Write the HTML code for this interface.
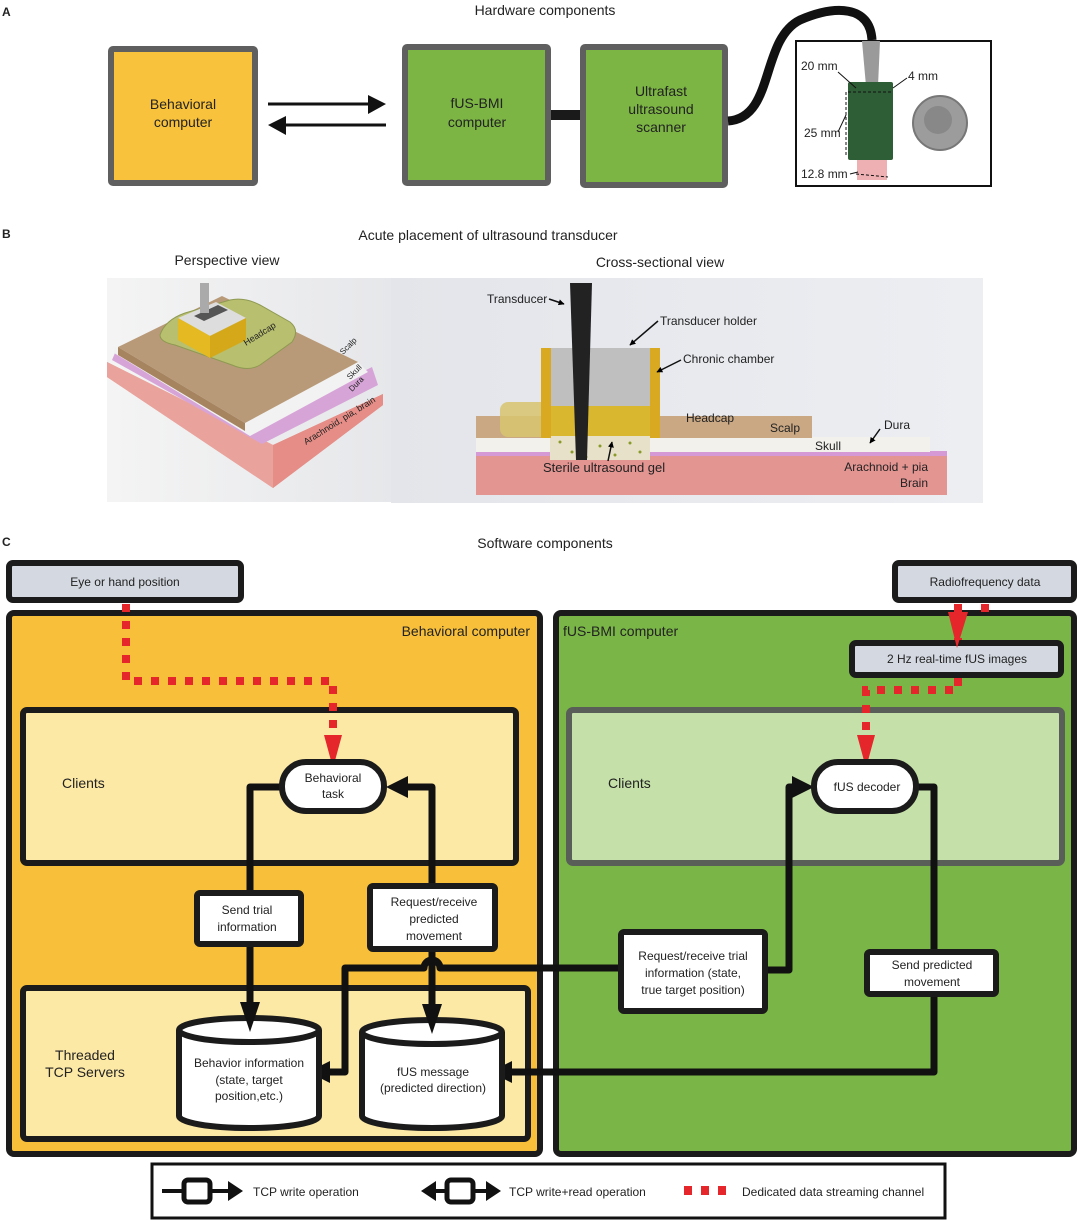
<!DOCTYPE html>
<html><head><meta charset="utf-8"><style>
html,body{margin:0;padding:0;background:#fff;}
svg{display:block;}
text{font-family:"Liberation Sans",sans-serif;fill:#222;}
</style></head><body>
<svg width="1080" height="1220" viewBox="0 0 1080 1220" xmlns="http://www.w3.org/2000/svg">
<defs>
<marker id="ah" viewBox="0 0 10 10" refX="9" refY="5" markerWidth="4" markerHeight="4" orient="auto"><path d="M0,0L10,5L0,10z" fill="#000"/></marker>
<linearGradient id="bgB" x1="0" y1="0" x2="1" y2="0"><stop offset="0" stop-color="#f4f4f4"/><stop offset="1" stop-color="#e6e7ea"/></linearGradient>
<linearGradient id="bgC" x1="0" y1="0" x2="1" y2="0"><stop offset="0" stop-color="#e3e5ea"/><stop offset="1" stop-color="#eceef2"/></linearGradient>
</defs>
<g font-size="13">
<text x="2" y="16" font-weight="bold" font-size="12">A</text>
<text x="2" y="238" font-weight="bold" font-size="12">B</text>
<text x="2" y="546" font-weight="bold" font-size="12">C</text>
<text x="545" y="15" text-anchor="middle" font-size="14">Hardware components</text>

<!-- Panel A -->
<rect x="111" y="49" width="144" height="134" fill="#f9c23c" stroke="#5f5f5f" stroke-width="6" rx="2"/>
<text x="183" y="109" text-anchor="middle" font-size="14">Behavioral</text>
<text x="183" y="127" text-anchor="middle" font-size="14">computer</text>
<line x1="268" y1="104" x2="372" y2="104" stroke="#111" stroke-width="3"/>
<path d="M368,95L386,104L368,114z" fill="#111"/>
<line x1="286" y1="125" x2="386" y2="125" stroke="#111" stroke-width="3"/>
<path d="M286,116L268,125L286,135z" fill="#111"/>
<rect x="405" y="47" width="143" height="136" fill="#7cb544" stroke="#5f5f5f" stroke-width="6" rx="2"/>
<text x="477" y="108" text-anchor="middle" font-size="14">fUS-BMI</text>
<text x="477" y="127" text-anchor="middle" font-size="14">computer</text>
<rect x="551" y="110" width="31" height="10" fill="#1a1a1a"/>
<rect x="583" y="47" width="142" height="138" fill="#7cb544" stroke="#5f5f5f" stroke-width="6" rx="2"/>
<text x="661" y="96" text-anchor="middle" font-size="14">Ultrafast</text>
<text x="661" y="114" text-anchor="middle" font-size="14">ultrasound</text>
<text x="661" y="132" text-anchor="middle" font-size="14">scanner</text>
<path d="M728,121 C775,118 760,40 800,20 C835,5 870,5 872,40" fill="none" stroke="#111" stroke-width="9"/>
<rect x="796" y="41" width="195" height="145" fill="#fff" stroke="#111" stroke-width="2"/>
<path d="M862,41L880,41L878,86L866,86z" fill="#9a9a9a"/>
<rect x="848" y="82" width="45" height="78" fill="#2e5e35" rx="2"/>
<rect x="857" y="160" width="30" height="20" fill="#eeb0b2"/>
<circle cx="940" cy="123" r="27" fill="#9c9c9c" stroke="#777" stroke-width="2"/>
<circle cx="938" cy="120" r="14" fill="#888"/>
<line x1="848" y1="92" x2="893" y2="92" stroke="#111" stroke-width="1" stroke-dasharray="3,2"/>
<line x1="846" y1="92" x2="846" y2="155" stroke="#111" stroke-width="1" stroke-dasharray="3,2"/>
<line x1="856" y1="174" x2="888" y2="177" stroke="#111" stroke-width="1" stroke-dasharray="3,2"/>
<line x1="838" y1="72" x2="856" y2="88" stroke="#111" stroke-width="1"/>
<line x1="907" y1="78" x2="893" y2="88" stroke="#111" stroke-width="1"/>
<line x1="838" y1="132" x2="846" y2="115" stroke="#111" stroke-width="1"/>
<line x1="850" y1="174" x2="858" y2="172" stroke="#111" stroke-width="1"/>
<text x="801" y="70" font-size="12">20 mm</text>
<text x="908" y="80" font-size="12">4 mm</text>
<text x="804" y="137" font-size="12">25 mm</text>
<text x="801" y="178" font-size="12">12.8 mm</text>

<!-- Panel B -->
<text x="488" y="240" text-anchor="middle" font-size="14">Acute placement of ultrasound transducer</text>
<text x="227" y="265" text-anchor="middle" font-size="14">Perspective view</text>
<text x="660" y="267" text-anchor="middle" font-size="14">Cross-sectional view</text>
<rect x="107" y="278" width="284" height="224" fill="url(#bgB)"/>
<path d="M107,362 L273,445 L383,394 L383,405 L273,488 L107,377z" fill="#e6918c"/>
<path d="M107,362 L273,445 L273,488 L107,377z" fill="#e9a39c"/>
<path d="M383,394 L273,445 L273,488 L383,405z" fill="#e58d86"/>
<path d="M115,353 L255,425 L372,367 L378,385 L262,444 L112,360z" fill="#d7a4d8"/>
<path d="M115,347 L245,418 L358,362 L368,372 L250,436 L114,353z" fill="#f2f2f2"/>
<path d="M118,347 L222,296 L358,362 L245,423z" fill="#b99a78"/>
<path d="M118,347 L245,423 L245,431 L118,355z" fill="#a5845f"/>
<path d="M160,335 Q165,320 185,313 L230,300 Q245,297 260,305 L290,322 Q300,330 292,342 L260,365 Q248,372 232,365 L175,345 Q160,342 160,335z" fill="#b8bf6e" stroke="#8e9952" stroke-width="1"/>
<path d="M178,318 L216,302 L246,318 L210,336z" fill="#ddd"/>
<path d="M178,318 L210,336 L210,358 L178,340z" fill="#e4b922"/>
<path d="M210,336 L246,318 L246,340 L210,358z" fill="#d4a819"/>
<path d="M194,316 L218,305 L228,310 L204,321z" fill="#555"/>
<rect x="200" y="283" width="9" height="30" fill="#aaa"/>
<text transform="translate(246,346) rotate(-32)" font-size="9" fill="#333">Headcap</text>
<text transform="translate(343,355) rotate(-45)" font-size="8" fill="#333">Scalp</text>
<text transform="translate(350,380) rotate(-45)" font-size="8" fill="#333">Skull</text>
<text transform="translate(352,392) rotate(-45)" font-size="8" fill="#333">Dura</text>
<text transform="translate(306,445) rotate(-32)" font-size="9" fill="#333">Arachnoid, pia, brain</text>
<rect x="391" y="278" width="592" height="225" fill="url(#bgC)"/>
<rect x="476" y="455" width="471" height="40" fill="#e39592"/>
<rect x="476" y="451" width="471" height="5" fill="#d59ad6"/>
<rect x="476" y="437" width="454" height="15" fill="#f3f1ec"/>
<rect x="476" y="416" width="336" height="22" fill="#c9a883"/>
<rect x="500" y="402" width="150" height="35" fill="#d8c46e" rx="8" opacity="0.85"/>
<rect x="550" y="436" width="100" height="24" fill="#e7e1c9"/>
<g fill="#8a9a2a"><circle cx="560" cy="442" r="1.5"/><circle cx="572" cy="452" r="1.5"/><circle cx="600" cy="446" r="1.5"/><circle cx="615" cy="455" r="1.5"/><circle cx="630" cy="443" r="1.5"/><circle cx="640" cy="452" r="1.5"/><circle cx="586" cy="457" r="1.5"/></g>
<rect x="541" y="348" width="10" height="90" fill="#d9a921"/>
<rect x="650" y="348" width="10" height="90" fill="#d9a921"/>
<rect x="551" y="348" width="99" height="58" fill="#bfbfbf"/>
<rect x="551" y="406" width="99" height="30" fill="#d9b72e"/>
<path d="M570,283 L592,283 L587,460 L576,460z" fill="#222"/>
<text x="487" y="303" font-size="12">Transducer</text>
<line x1="549" y1="299" x2="564" y2="304" stroke="#111" stroke-width="1.5" marker-end="url(#ah)"/>
<text x="660" y="325" font-size="12">Transducer holder</text>
<line x1="658" y1="321" x2="630" y2="345" stroke="#111" stroke-width="1.5" marker-end="url(#ah)"/>
<text x="683" y="363" font-size="12">Chronic chamber</text>
<line x1="681" y1="360" x2="657" y2="372" stroke="#111" stroke-width="1.5" marker-end="url(#ah)"/>
<text x="686" y="422" font-size="12">Headcap</text>
<text x="770" y="432" font-size="12">Scalp</text>
<text x="815" y="450" font-size="12">Skull</text>
<text x="884" y="429" font-size="12">Dura</text>
<line x1="880" y1="429" x2="870" y2="443" stroke="#111" stroke-width="1.5" marker-end="url(#ah)"/>
<text x="543" y="472" font-size="13">Sterile ultrasound gel</text>
<line x1="608" y1="461" x2="612" y2="442" stroke="#111" stroke-width="1.5" marker-end="url(#ah)"/>
<text x="928" y="471" text-anchor="end" font-size="12">Arachnoid + pia</text>
<text x="928" y="487" text-anchor="end" font-size="12">Brain</text>

<!-- Panel C -->
<text x="545" y="548" text-anchor="middle" font-size="14">Software components</text>
<rect x="9" y="563" width="232" height="37" fill="#d4d9e1" stroke="#1b1b1b" stroke-width="6" rx="4"/>
<text x="125" y="586" text-anchor="middle" font-size="12">Eye or hand position</text>
<rect x="895" y="563" width="179" height="37" fill="#d4d9e1" stroke="#1b1b1b" stroke-width="6" rx="4"/>
<text x="985" y="586" text-anchor="middle" font-size="12">Radiofrequency data</text>

<rect x="9" y="613" width="531" height="541" fill="#f8c03a" stroke="#1b1b1b" stroke-width="6" rx="5"/>
<rect x="556" y="613" width="518" height="541" fill="#7ab547" stroke="#1b1b1b" stroke-width="6" rx="5"/>
<text x="530" y="636" text-anchor="end" font-size="14">Behavioral computer</text>
<text x="563" y="636" font-size="14">fUS-BMI computer</text>
<rect x="852" y="643" width="209" height="32" fill="#d4d9e1" stroke="#1b1b1b" stroke-width="6" rx="4"/>
<text x="957" y="663" text-anchor="middle" font-size="12">2 Hz real-time fUS images</text>

<rect x="23" y="710" width="493" height="153" fill="#fde9a6" stroke="#1b1b1b" stroke-width="6" rx="4"/>
<rect x="569" y="710" width="493" height="153" fill="#c5e1a9" stroke="#595f58" stroke-width="6" rx="4"/>
<text x="62" y="788" font-size="14">Clients</text>
<text x="608" y="788" font-size="14">Clients</text>
<rect x="23" y="988" width="505" height="151" fill="#fde9a6" stroke="#1b1b1b" stroke-width="6" rx="4"/>
<text x="85" y="1060" text-anchor="middle" font-size="14">Threaded</text>
<text x="85" y="1077" text-anchor="middle" font-size="14">TCP Servers</text>

<g stroke="#e5262b" stroke-width="8" fill="none" stroke-dasharray="8,9">
<path d="M126,604 L126,681 L333,681 L333,740"/>
<path d="M958,604 L958,640"/>
<path d="M985,604 L985,612"/>
<path d="M958,678 L958,690 L866,690 L866,740"/>
</g>
<path d="M324,735 L342,735 L333,768z" fill="#e5262b"/>
<path d="M857,735 L875,735 L866,768z" fill="#e5262b"/>
<path d="M948,612 L968,612 L957,648z" fill="#e5262b"/>

<g stroke="#111" stroke-width="7" fill="none" stroke-linejoin="round">
<path d="M282,787 L250,787 L250,1020"/>
<path d="M432,1020 L432,787 L400,787"/>
<path d="M622,968 L440,968 A8,8 0 0 0 424,968 L345,968 L345,1072 L320,1072"/>
<path d="M765,970 L789,970 L789,787 L800,787"/>
<path d="M916,787 L934,787 L934,1072 L508,1072"/>
</g>
<path d="M386,787 L408,776 L408,798z" fill="#111"/>
<path d="M814,787 L792,776 L792,798z" fill="#111"/>
<path d="M308,1072 L330,1061 L330,1083z" fill="#111"/>
<path d="M490,1072 L512,1061 L512,1083z" fill="#111"/>

<rect x="282" y="762" width="102" height="49" rx="24" fill="#fff" stroke="#1b1b1b" stroke-width="6"/>
<text x="333" y="782" text-anchor="middle" font-size="12">Behavioral</text>
<text x="333" y="798" text-anchor="middle" font-size="12">task</text>
<rect x="814" y="762" width="102" height="49" rx="24" fill="#fff" stroke="#1b1b1b" stroke-width="6"/>
<text x="867" y="791" text-anchor="middle" font-size="12">fUS decoder</text>

<rect x="197" y="893" width="104" height="51" fill="#fff" stroke="#1b1b1b" stroke-width="6" rx="3"/>
<text x="247" y="914" text-anchor="middle" font-size="12">Send trial</text>
<text x="247" y="931" text-anchor="middle" font-size="12">information</text>
<rect x="370" y="886" width="125" height="63" fill="#fff" stroke="#1b1b1b" stroke-width="6" rx="3"/>
<text x="434" y="906" text-anchor="middle" font-size="12">Request/receive</text>
<text x="434" y="923" text-anchor="middle" font-size="12">predicted</text>
<text x="434" y="940" text-anchor="middle" font-size="12">movement</text>
<rect x="621" y="932" width="144" height="79" fill="#fff" stroke="#1b1b1b" stroke-width="6" rx="3"/>
<text x="693" y="960" text-anchor="middle" font-size="12">Request/receive trial</text>
<text x="693" y="977" text-anchor="middle" font-size="12">information (state,</text>
<text x="693" y="994" text-anchor="middle" font-size="12">true target position)</text>
<rect x="867" y="952" width="129" height="42" fill="#fff" stroke="#1b1b1b" stroke-width="6" rx="3"/>
<text x="932" y="969" text-anchor="middle" font-size="12">Send predicted</text>
<text x="932" y="986" text-anchor="middle" font-size="12">movement</text>

<path d="M179,1030 L179,1116 A70,12 0 0 0 319,1116 L319,1030" fill="#fff" stroke="#1b1b1b" stroke-width="6"/>
<ellipse cx="249" cy="1030" rx="70" ry="12" fill="#fff" stroke="#1b1b1b" stroke-width="6"/>
<path d="M362,1032 L362,1116 A70,12 0 0 0 502,1116 L502,1032" fill="#fff" stroke="#1b1b1b" stroke-width="6"/>
<ellipse cx="432" cy="1032" rx="70" ry="12" fill="#fff" stroke="#1b1b1b" stroke-width="6"/>
<path d="M422,1004 L442,1004 L432,1034z" fill="#111"/>
<path d="M240,1002 L260,1002 L250,1032z" fill="#111"/>
<text x="249" y="1067" text-anchor="middle" font-size="12">Behavior information</text>
<text x="249" y="1084" text-anchor="middle" font-size="12">(state, target</text>
<text x="249" y="1100" text-anchor="middle" font-size="12">position,etc.)</text>
<text x="433" y="1076" text-anchor="middle" font-size="12">fUS message</text>
<text x="433" y="1092" text-anchor="middle" font-size="12">(predicted direction)</text>

<rect x="152" y="1164" width="793" height="54" fill="#fff" stroke="#111" stroke-width="3"/>
<line x1="162" y1="1191" x2="230" y2="1191" stroke="#111" stroke-width="4"/>
<rect x="184" y="1180" width="26" height="22" rx="4" fill="#fff" stroke="#111" stroke-width="5"/>
<path d="M228,1181 L243,1191 L228,1201z" fill="#111"/>
<text x="253" y="1196" font-size="12">TCP write operation</text>
<line x1="425" y1="1191" x2="490" y2="1191" stroke="#111" stroke-width="4"/>
<rect x="447" y="1180" width="26" height="22" rx="4" fill="#fff" stroke="#111" stroke-width="5"/>
<path d="M436,1181 L421,1191 L436,1201z" fill="#111"/>
<path d="M486,1181 L501,1191 L486,1201z" fill="#111"/>
<text x="509" y="1196" font-size="12">TCP write+read operation</text>
<rect x="684" y="1186" width="8" height="9" fill="#e5262b"/>
<rect x="701" y="1186" width="8" height="9" fill="#e5262b"/>
<rect x="718" y="1186" width="8" height="9" fill="#e5262b"/>
<text x="742" y="1196" font-size="12">Dedicated data streaming channel</text>
</g>
</svg>
</body></html>
